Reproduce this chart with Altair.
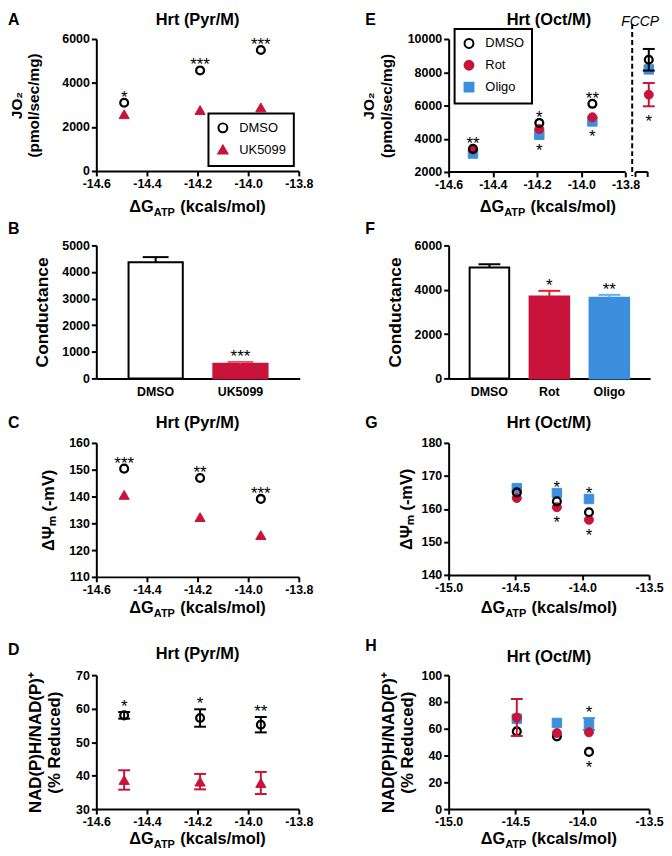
import altair as alt
import pandas as pd

FONT = "Liberation Sans"
RED = "#c8133a"
BLUE = "#3b8fdc"
RED_LIGHT = "#e4566a"
RED_BRIGHT = "#e8202e"
BLUE_LIGHT = "#62aef0"

# ---------------- values ----------------
DG_POINTS = [-14.49, -14.19, -13.95]
FCCP_POS = -13.695
DG_TICKS_PYR = [-14.6, -14.4, -14.2, -14.0, -13.8]
DG_TICKS_OCT = [-15.0, -14.5, -14.0, -13.5]

# A  JO2, Pyr/M
A_DMSO = [3100, 4570, 5500]
A_UK = [2580, 2770, 2890]
A_STARS = ["*", "***", "***"]
# B  conductance, Pyr/M
B_GROUPS = ["DMSO", "UK5099"]
B_MEAN = [4370, 550]
B_SEM = [190, 70]
B_STARS = ["", "***"]
# C  membrane potential, Pyr/M
C_DMSO = [150.4, 146.9, 139.1]
C_UK = [140.6, 132.3, 125.6]
C_STARS = ["***", "**", "***"]
# D  NAD(P)H redox, Pyr/M
D_DMSO = [58.0, 57.2, 55.2]
D_DMSO_SEM = [1.0, 2.6, 2.3]
D_UK = [38.7, 38.2, 37.8]
D_UK_SEM = [2.9, 2.3, 3.3]
D_STARS = ["*", "*", "**"]
# E  JO2, Oct/M (last entry = FCCP)
E_X = DG_POINTS + [FCCP_POS]
E_DMSO = [3390, 4950, 6100, 8750]
E_DMSO_SEM = [0, 0, 0, 650]
E_ROT = [3350, 4580, 5290, 6650]
E_ROT_SEM = [0, 0, 0, 700]
E_OLIGO = [3110, 4240, 5040, 8170]
E_OLIGO_SEM = [0, 0, 0, 0]
E_STARS_UP = ["**", "*", "**", ""]
E_STARS_DOWN = ["", "*", "*", "*"]
E_AXIS_MAIN = [-14.6, -13.8]
E_AXIS_FCCP = [-13.755, -13.70]
E_BREAK = -13.77
# F  conductance, Oct/M
F_GROUPS = ["DMSO", "Rot", "Oligo"]
F_MEAN = [5000, 3700, 3640]
F_SEM = [150, 250, 130]
F_STARS = ["", "*", "**"]
# G  membrane potential, Oct/M
G_DMSO = [165.0, 162.3, 159.0]
G_ROT = [163.3, 160.5, 156.7]
G_OLIGO = [166.3, 164.8, 163.0]
G_STARS_UP = ["", "*", "*"]
G_STARS_DOWN = ["", "*", "*"]
# H  NAD(P)H redox, Oct/M
H_DMSO = [58.0, 54.3, 42.7]
H_DMSO_SEM = [0, 0, 0]
H_ROT = [68.4, 56.8, 57.3]
H_ROT_SEM = [13.8, 0, 0]
H_OLIGO = [67.5, 64.3, 63.5]
H_OLIGO_SEM = [0, 0, 4.4]
H_STARS_UP = ["", "", "*"]
H_STARS_DOWN = ["", "", "*"]

ZERO3 = [0, 0, 0]

STYLE = {
    "DMSO": dict(shape="circle", fill="transparent", stroke="black", size=62, sw=2.3, err="black"),
    "UK5099": dict(shape="triangle-up", fill=RED, stroke=RED, size=105, sw=1, err=RED),
    "Rot": dict(shape="circle", fill=RED, stroke=RED, size=82, sw=1, err=RED),
    "Oligo": dict(shape="square", fill=BLUE, stroke=BLUE, size=90, sw=1, err=BLUE),
}

MINUS_FIX = "replace(format(datum.value, '.1f'), '\u2212', '-')"


def text_layer(text, x, y, size=16, weight="bold", align="left", style="normal",
               opacity=1.0, baseline="alphabetic"):
    return alt.Chart(alt.Data(values=[{"t": text}])).mark_text(
        font=FONT, fontSize=size, fontWeight=weight, fontStyle=style, align=align,
        baseline=baseline, color="black", opacity=opacity
    ).encode(x=alt.value(x), y=alt.value(y), text="t:N")


def spacers(left=None, right=None, top=None, bottom=None):
    out = []
    if left is not None:
        out.append(text_layer(".", left, 0, size=2, align="left", opacity=0, baseline="middle"))
    if right is not None:
        out.append(text_layer(".", right, 0, size=2, align="left", opacity=0, baseline="middle"))
    if top is not None:
        out.append(text_layer(".", 0, -top + 1, size=2, align="left", opacity=0, baseline="middle"))
    if bottom is not None:
        out.append(text_layer(".", 0, bottom - 1, size=2, align="left", opacity=0, baseline="middle"))
    return out


def xtitle(cx, y):
    f1, f2 = 16.5, 11.0
    w1 = 1.50 * f1
    w2 = 2.0 * f2
    sp = 0.278 * f1
    w3 = 5.224 * f1
    x0 = cx - (w1 + w2 + sp + w3) / 2
    return [text_layer("\u0394G", x0, y, f1),
            text_layer("ATP", x0 + w1, y + 4, f2),
            text_layer("(kcals/mol)", x0 + w1 + w2 + sp, y, f1)]


def scatter_panel(cfg):
    W, H = cfg["W"], cfg["H"]
    xsc = alt.Scale(domain=cfg["xdom"], nice=False, zero=False)
    ysc = alt.Scale(domain=cfg["ydom"], nice=False, zero=False)
    xaxis = alt.Axis(values=cfg["xticks"], title=None, domain=cfg.get("xline", True),
                     labelFlush=False, labelOverlap=False, labelExpr=MINUS_FIX, labelPadding=2)
    yaxis = alt.Axis(values=cfg["yticks"], title=cfg["ytitle"], titleFontSize=cfg["ytsize"],
                     titlePadding=cfg["ytpad"], titleLineHeight=cfg["ytsize"] + 2,
                     format="d", labelOverlap=False)

    def X(f="x"):
        return alt.X(f"{f}:Q", scale=xsc, axis=xaxis)

    def Y(f="y"):
        return alt.Y(f"{f}:Q", scale=ysc, axis=yaxis)

    groups = cfg["groups"]
    leg = cfg.get("legend")
    layers = []
    for name, xs, vals, sems in cfg["series"]:
        df = pd.DataFrame({"x": xs, "y": vals, "sem": sems})
        df["lo"] = df["y"] - df["sem"]
        df["hi"] = df["y"] + df["sem"]
        df["grp"] = name
        st = STYLE[name]
        d = df[df["sem"] > 0]
        if len(d):
            layers.append(alt.Chart(d).mark_rule(color=st["err"], strokeWidth=2).encode(
                x=X(), y=Y("lo"), y2=alt.Y2("hi")))
            caps = pd.concat([d.assign(c=d["lo"]), d.assign(c=d["hi"])])
            layers.append(alt.Chart(caps).mark_tick(orient="horizontal", size=12, thickness=2,
                                                    color=st["err"], opacity=1).encode(x=X(), y=Y("c")))
        enc = dict(x=X(), y=Y())
        if leg is not None:
            enc["shape"] = alt.Shape("grp:N", scale=alt.Scale(domain=groups, range=[STYLE[g]["shape"] for g in groups]), legend=leg)
            enc["fill"] = alt.Fill("grp:N", scale=alt.Scale(domain=groups, range=[STYLE[g]["fill"] for g in groups]), legend=leg)
            enc["stroke"] = alt.Stroke("grp:N", scale=alt.Scale(domain=groups, range=[STYLE[g]["stroke"] for g in groups]), legend=leg)
            mk = alt.Chart(df).mark_point(filled=True, opacity=1, size=st["size"], strokeWidth=st["sw"])
        else:
            mk = alt.Chart(df).mark_point(filled=True, opacity=1, size=st["size"], strokeWidth=st["sw"],
                                          shape=st["shape"], fill=st["fill"], stroke=st["stroke"])
        layers.append(mk.encode(**enc))

    for labels, up in cfg["stars"]:
        rows = []
        for i, lab in enumerate(labels):
            if not lab:
                continue
            cands = [(v[i] + s[i]) if up else (v[i] - s[i]) for (_, _, v, s) in cfg["series"]]
            rows.append({"x": cfg["series"][0][1][i], "a": max(cands) if up else min(cands), "label": lab})
        if rows:
            layers.append(alt.Chart(pd.DataFrame(rows)).mark_text(
                font=FONT, fontSize=17, baseline="alphabetic", dy=0 if up else 21, color="black"
            ).encode(x=X(), y=Y("a"), text="label:N"))

    if cfg.get("extra"):
        layers.extend(cfg["extra"](X, Y, W, H))

    layers.append(text_layer(cfg["letter"], cfg["letter_x"], cfg["letter_y"], 16))
    layers.append(text_layer(cfg["title"], cfg.get("title_x", W / 2), cfg["title_y"], 16.5, align="center"))
    layers.extend(xtitle(cfg.get("xt_x", W / 2), cfg["xt_y"]))
    layers.extend(spacers(**cfg["spc"]))
    return alt.layer(*layers).properties(width=W, height=H)


def bar_panel(cfg):
    W, H = cfg["W"], cfg["H"]
    groups = cfg["groups"]
    df = pd.DataFrame({"g": groups, "y": cfg["mean"],
                       "hi": [m + s for m, s in zip(cfg["mean"], cfg["sem"])],
                       "label": cfg["stars"]})
    xsc = alt.Scale(domain=groups, paddingInner=cfg["pi"], paddingOuter=cfg["po"])
    xaxis = alt.Axis(title=None, labelAngle=0, ticks=False, labelPadding=7)
    ysc = alt.Scale(domain=cfg["ydom"], nice=False, zero=True)
    yaxis = alt.Axis(values=cfg["yticks"], title="Conductance", titleFontSize=17.5,
                     titlePadding=cfg["ytpad"], format="d", labelOverlap=False)
    X = alt.X("g:N", sort=groups, scale=xsc, axis=xaxis)

    def Y(f):
        return alt.Y(f"{f}:Q", scale=ysc, axis=yaxis)

    bars = alt.Chart(df).mark_bar(strokeWidth=2, opacity=1).encode(
        x=X, y=Y("y"),
        fill=alt.Fill("g:N", scale=alt.Scale(domain=groups, range=cfg["fill"]), legend=None),
        stroke=alt.Stroke("g:N", scale=alt.Scale(domain=groups, range=cfg["stroke"]), legend=None))
    errc = alt.Color("g:N", scale=alt.Scale(domain=groups, range=cfg["err"]), legend=None)
    err = alt.Chart(df).mark_rule(strokeWidth=2).encode(x=X, y=Y("y"), y2=alt.Y2("hi"), color=errc)
    caps = alt.Chart(df).mark_tick(orient="horizontal", size=cfg["cap"], thickness=2, opacity=1).encode(
        x=X, y=Y("hi"), color=errc)
    st = alt.Chart(df[df["label"] != ""]).mark_text(
        font=FONT, fontSize=17, baseline="alphabetic", color="black").encode(x=X, y=Y("hi"), text="label:N")
    layers = [bars, err, caps, st, text_layer(cfg["letter"], cfg["letter_x"], cfg["letter_y"], 16)]
    layers.extend(spacers(**cfg["spc"]))
    return alt.layer(*layers).properties(width=W, height=H)


def e_extra(X, Y, W, H):
    seg = pd.DataFrame({"x1": [E_AXIS_MAIN[0], E_AXIS_FCCP[0]], "x2": [E_AXIS_MAIN[1], E_AXIS_FCCP[1]]})
    ends = pd.DataFrame({"x": E_AXIS_FCCP})
    brk = pd.DataFrame({"x": [E_BREAK]})
    return [
        alt.Chart(seg).mark_rule(color="black", strokeWidth=2).encode(x=X("x1"), x2=alt.X2("x2"), y=alt.value(H)),
        alt.Chart(ends).mark_rule(color="black", strokeWidth=2).encode(x=X("x"), y=alt.value(H), y2=alt.value(H + 5)),
        alt.Chart(brk).mark_rule(color="black", strokeWidth=2, strokeDash=[5, 3]).encode(
            x=X("x"), y=alt.value(-15), y2=alt.value(H + 4)),
        text_layer("FCCP", 212, -13, 14, weight="normal", align="right", style="italic"),
    ]


def legend(x, y):
    return alt.Legend(title=None, orient="none", legendX=x, legendY=y, strokeColor="black",
                      fillColor="white", padding=8, labelFont=FONT, labelFontSize=13,
                      labelFontWeight="normal", labelColor="black", symbolSize=80,
                      symbolStrokeWidth=2, rowPadding=5, labelOffset=10)


# ---------------- panels ----------------
ROW1 = dict(top=28, bottom=184)
ROW2 = dict(top=24, bottom=170)
ROW3 = dict(top=29, bottom=197)
ROW4 = dict(top=37)
LEFTCOL = dict(left=-89, right=224)
RIGHTCOL = dict(left=-130)

A = scatter_panel(dict(
    W=204, H=133, xdom=[-14.6, -13.8], xticks=DG_TICKS_PYR, ydom=[0, 6000], yticks=[0, 2000, 4000, 6000],
    ytitle=["JO\u2082", "(pmol/sec/mg)"], ytsize=15.5, ytpad=20,
    groups=["DMSO", "UK5099"],
    series=[("UK5099", DG_POINTS, A_UK, ZERO3), ("DMSO", DG_POINTS, A_DMSO, ZERO3)],
    stars=[(A_STARS, True)], legend=legend(113, 75),
    letter="A", letter_x=-89, letter_y=-14, title="Hrt (Pyr/M)", title_y=-14, xt_y=174,
    spc={**ROW1, **LEFTCOL}))

E = scatter_panel(dict(
    W=205, H=134, xdom=[-14.6, -13.68], xticks=DG_TICKS_PYR, xline=False, ydom=[2000, 10000],
    yticks=[2000, 4000, 6000, 8000, 10000],
    ytitle=["JO\u2082", "(pmol/sec/mg)"], ytsize=15.5, ytpad=13,
    groups=["DMSO", "Rot", "Oligo"],
    series=[("Oligo", E_X, E_OLIGO, E_OLIGO_SEM), ("Rot", E_X, E_ROT, E_ROT_SEM), ("DMSO", E_X, E_DMSO, E_DMSO_SEM)],
    stars=[(E_STARS_UP, True), (E_STARS_DOWN, False)], legend=legend(6, -10), extra=e_extra,
    letter="E", letter_x=-84, letter_y=-14, title="Hrt (Oct/M)", title_x=101, title_y=-14, xt_x=100, xt_y=174,
    spc={**ROW1, **RIGHTCOL}))

B = bar_panel(dict(
    W=205, H=134, groups=B_GROUPS, mean=B_MEAN, sem=B_SEM, stars=B_STARS,
    fill=["white", RED], stroke=["black", RED], err=["black", RED_LIGHT], cap=26,
    pi=0.36, po=0.38, ydom=[0, 5000], yticks=[0, 1000, 2000, 3000, 4000, 5000], ytpad=10,
    letter="B", letter_x=-89, letter_y=-11, spc={**ROW2, **LEFTCOL}))

F = bar_panel(dict(
    W=203, H=134, groups=F_GROUPS, mean=F_MEAN, sem=F_SEM, stars=F_STARS,
    fill=["white", RED, BLUE], stroke=["black", RED, BLUE], err=["black", RED_BRIGHT, BLUE_LIGHT], cap=22,
    pi=0.34, po=0.35, ydom=[0, 6000], yticks=[0, 2000, 4000, 6000], ytpad=10,
    letter="F", letter_x=-84, letter_y=-11, spc={**ROW2, **RIGHTCOL}))

C = scatter_panel(dict(
    W=204, H=135, xdom=[-14.6, -13.8], xticks=DG_TICKS_PYR, ydom=[110, 160], yticks=[110, 120, 130, 140, 150, 160],
    ytitle="\u0394\u03a8\u2098  (-mV)", ytsize=16.5, ytpad=12,
    groups=["DMSO", "UK5099"],
    series=[("UK5099", DG_POINTS, C_UK, ZERO3), ("DMSO", DG_POINTS, C_DMSO, ZERO3)],
    stars=[(C_STARS, True)],
    letter="C", letter_x=-89, letter_y=-15, title="Hrt (Pyr/M)", title_y=-15, xt_y=171,
    spc={**ROW3, **LEFTCOL}))

G = scatter_panel(dict(
    W=202, H=133, xdom=[-15.0, -13.5], xticks=DG_TICKS_OCT, ydom=[140, 180], yticks=[140, 150, 160, 170, 180],
    ytitle="\u0394\u03a8\u2098  (-mV)", ytsize=16.5, ytpad=7,
    groups=["DMSO", "Rot", "Oligo"],
    series=[("Oligo", DG_POINTS, G_OLIGO, ZERO3), ("Rot", DG_POINTS, G_ROT, ZERO3), ("DMSO", DG_POINTS, G_DMSO, ZERO3)],
    stars=[(G_STARS_UP, True), (G_STARS_DOWN, False)],
    letter="G", letter_x=-84, letter_y=-15, title="Hrt (Oct/M)", title_y=-15, xt_y=171,
    spc={**ROW3, **RIGHTCOL}))

D = scatter_panel(dict(
    W=204, H=135, xdom=[-14.6, -13.8], xticks=DG_TICKS_PYR, ydom=[30, 70], yticks=[30, 40, 50, 60, 70],
    ytitle=["NAD(P)H/NAD(P)\u207a", "(% Reduced)"], ytsize=17, ytpad=12,
    groups=["DMSO", "UK5099"],
    series=[("UK5099", DG_POINTS, D_UK, D_UK_SEM), ("DMSO", DG_POINTS, D_DMSO, D_DMSO_SEM)],
    stars=[(D_STARS, True)],
    letter="D", letter_x=-89, letter_y=-20, title="Hrt (Pyr/M)", title_y=-16, xt_y=170,
    spc={**ROW4, **LEFTCOL}))

H = scatter_panel(dict(
    W=202, H=135, xdom=[-15.0, -13.5], xticks=DG_TICKS_OCT, ydom=[0, 100], yticks=[0, 20, 40, 60, 80, 100],
    ytitle=["NAD(P)H/NAD(P)\u207a", "(% Reduced)"], ytsize=17, ytpad=5,
    groups=["DMSO", "Rot", "Oligo"],
    series=[("DMSO", DG_POINTS, H_DMSO, H_DMSO_SEM), ("Oligo", DG_POINTS, H_OLIGO, H_OLIGO_SEM), ("Rot", DG_POINTS, H_ROT, H_ROT_SEM)],
    stars=[(H_STARS_UP, True), (H_STARS_DOWN, False)],
    letter="H", letter_x=-84, letter_y=-24, title="Hrt (Oct/M)", title_y=-13, xt_y=170,
    spc={**ROW4, **RIGHTCOL}))

chart = alt.concat(A, E, B, F, C, G, D, H, columns=2, spacing=0, align="each").resolve_scale(
    fill="independent", stroke="independent", shape="independent", color="independent"
).resolve_legend(
    fill="independent", stroke="independent", shape="independent", color="independent"
).properties(
    padding=0, background="white"
).configure_view(stroke=None).configure_axis(
    domainColor="black", domainWidth=2, tickColor="black", tickWidth=2, tickSize=5,
    labelFont=FONT, labelFontSize=12.5, labelFontWeight="bold", labelColor="black", labelPadding=2,
    titleFont=FONT, titleFontWeight="bold", titleColor="black", grid=False
).configure_legend(strokeWidth=2)

chart.save("out.html", embed_options={"renderer": "svg", "actions": False})
